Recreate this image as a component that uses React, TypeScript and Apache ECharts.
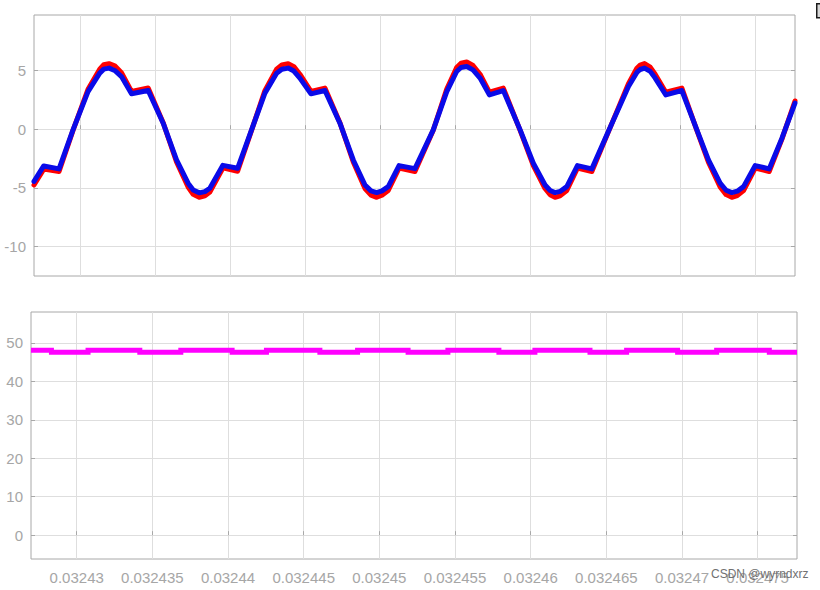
import React, { useEffect, useRef } from 'react';
import * as echarts from 'echarts';

// Time axis (s) for the two voltage traces of the upper plot
const timeTop = [
  0.03242695, 0.03242760, 0.03242862, 0.03242955, 0.03243055, 0.03243133, 0.03243160, 0.03243195,
  0.03243233, 0.03243278, 0.03243345, 0.03243456, 0.03243556, 0.03243645, 0.03243722, 0.03243756,
  0.03243796, 0.03243834, 0.03243867, 0.03243954, 0.03244052, 0.03244145, 0.03244234, 0.03244312,
  0.03244347, 0.03244389, 0.03244427, 0.03244467, 0.03244541, 0.03244634, 0.03244734, 0.03244823,
  0.03244901, 0.03244941, 0.03244979, 0.03245014, 0.03245056, 0.03245128, 0.03245234, 0.03245356,
  0.03245446, 0.03245512, 0.03245541, 0.03245579, 0.03245621, 0.03245668, 0.03245730, 0.03245823,
  0.03245935, 0.03246023, 0.03246101, 0.03246135, 0.03246168, 0.03246201, 0.03246246, 0.03246317,
  0.03246413, 0.03246528, 0.03246657, 0.03246713, 0.03246735, 0.03246764, 0.03246802, 0.03246835,
  0.03246906, 0.03247013, 0.03247113, 0.03247190, 0.03247268, 0.03247308, 0.03247346, 0.03247382,
  0.03247424, 0.03247502, 0.03247595, 0.03247680, 0.03247767,
];
const voltBlue = [
  -4.45, -3.13, -3.38, -0.06, 3.20, 4.77, 5.11, 5.20,
  5.00, 4.48, 3.01, 3.29, 0.51, -2.62, -4.60, -5.17,
  -5.42, -5.32, -5.03, -3.08, -3.33, -0.06, 3.07, 4.77,
  5.10, 5.20, 4.95, 4.35, 3.01, 3.29, 0.51, -2.62,
  -4.75, -5.25, -5.40, -5.25, -4.89, -3.10, -3.36, -0.06,
  3.20, 4.91, 5.25, 5.34, 5.05, 4.35, 2.92, 3.29,
  -0.06, -2.90, -4.75, -5.22, -5.40, -5.30, -4.89, -3.10,
  -3.38, -0.05, 3.63, 4.83, 5.08, 5.20, 4.92, 4.35,
  2.92, 3.29, -0.06, -2.62, -4.60, -5.20, -5.40, -5.28,
  -4.89, -3.10, -3.38, -0.77, 2.22,
];
const voltRed = [
  -4.75, -3.40, -3.60, -0.10, 3.40, 5.10, 5.48, 5.58,
  5.40, 4.80, 3.22, 3.50, 0.55, -2.80, -4.92, -5.55,
  -5.80, -5.68, -5.35, -3.30, -3.58, -0.10, 3.28, 5.10,
  5.47, 5.58, 5.32, 4.68, 3.22, 3.50, 0.55, -2.80,
  -5.05, -5.62, -5.80, -5.62, -5.22, -3.32, -3.60, -0.10,
  3.42, 5.25, 5.62, 5.72, 5.42, 4.68, 3.15, 3.50,
  -0.10, -3.10, -5.05, -5.58, -5.80, -5.68, -5.22, -3.32,
  -3.60, -0.08, 3.88, 5.18, 5.45, 5.58, 5.28, 4.68,
  3.15, 3.50, -0.10, -2.80, -4.92, -5.57, -5.80, -5.65,
  -5.22, -3.32, -3.60, -0.85, 2.40,
];

// Lower plot: step-wise DC level (start time of each level, level value)
const stepTimes = [
  0.03242698, 0.03242833, 0.03243075, 0.03243417, 0.03243688, 0.03244027, 0.03244254, 0.03244607,
  0.03244856, 0.03245190, 0.03245453, 0.03245790, 0.03246028, 0.03246392, 0.03246634, 0.03246971,
  0.03247229, 0.03247577, 0.03247760,
];
const stepLevels = [
  48.1, 47.6, 48.1, 47.6, 48.1, 47.6, 48.1, 47.6,
  48.1, 47.6, 48.1, 47.6, 48.1, 47.6, 48.1, 47.6,
  48.1, 47.6, 47.6,
];

const xTickValues = [0.03243, 0.032435, 0.03244, 0.032445, 0.03245, 0.032455, 0.03246, 0.032465, 0.03247, 0.032475];
const yTopTicks = [-10, -5, 0, 5];
const yBottomTicks = [0, 10, 20, 30, 40, 50];

const TOP_X_MIN = 0.03242695;
const TOP_X_MAX = 0.03247767;
const BOT_X_MIN = 0.03242698;
const BOT_X_MAX = 0.0324776;
const TOP_Y_MIN = -12.5;
const TOP_Y_MAX = 9.72;
const BOT_Y_MIN = -6.2;
const BOT_Y_MAX = 58.05;

const FONT = 'Liberation Sans, Arial, Helvetica, sans-serif';
const LABEL_COLOR = '#a6a6a6';
const GRID_LINE = '#dedede';
const TICK_COLOR = '#a8a8a8';

function xAxisFor(gridIndex: number, min: number, max: number, showLabels: boolean) {
  return {
    type: 'value',
    gridIndex,
    min,
    max,
    axisLine: { show: false },
    axisTick: { show: true, inside: true, length: 4, customValues: xTickValues, lineStyle: { color: TICK_COLOR } },
    axisLabel: {
      show: showLabels,
      customValues: xTickValues,
      color: LABEL_COLOR,
      fontSize: 15,
      fontFamily: FONT,
      margin: 11,
      formatter: (v: number) => String(parseFloat(Number(v).toPrecision(6))),
    },
    splitLine: { show: true, lineStyle: { color: GRID_LINE, width: 1 } },
  };
}

function yAxisFor(gridIndex: number, min: number, max: number, ticks: number[], position: string) {
  const left = position === 'left';
  return {
    type: 'value',
    gridIndex,
    min,
    max,
    position,
    axisLine: { show: false },
    axisTick: { show: true, inside: true, length: 4, customValues: ticks, lineStyle: { color: TICK_COLOR } },
    axisLabel: {
      show: left,
      customValues: ticks,
      color: LABEL_COLOR,
      fontSize: 15,
      fontFamily: FONT,
      margin: 8,
    },
    splitLine: { show: left, lineStyle: { color: GRID_LINE, width: 1 } },
  };
}

export default function App() {
  const ref = useRef<HTMLDivElement>(null);

  useEffect(() => {
    if (!ref.current) return;
    const chart = echarts.init(ref.current, undefined, { renderer: 'svg' });
    const blueData = timeTop.map((t, i) => [t, voltBlue[i]]);
    const redData = timeTop.map((t, i) => [t, voltRed[i]]);
    const stepData = stepTimes.map((t, i) => [t, stepLevels[i]]);

    chart.setOption({
      animation: false,
      backgroundColor: '#ffffff',
      textStyle: { fontFamily: FONT },
      grid: [
        { left: 34, top: 15, width: 761, height: 261, show: true, borderColor: '#a8a8a8', borderWidth: 1, backgroundColor: '#ffffff' },
        { left: 31, top: 312, width: 766, height: 247, show: true, borderColor: '#a8a8a8', borderWidth: 1, backgroundColor: '#ffffff' },
      ],
      xAxis: [
        xAxisFor(0, TOP_X_MIN, TOP_X_MAX, false),
        xAxisFor(1, BOT_X_MIN, BOT_X_MAX, true),
      ],
      yAxis: [
        yAxisFor(0, TOP_Y_MIN, TOP_Y_MAX, yTopTicks, 'left'),
        yAxisFor(0, TOP_Y_MIN, TOP_Y_MAX, yTopTicks, 'right'),
        yAxisFor(1, BOT_Y_MIN, BOT_Y_MAX, yBottomTicks, 'left'),
        yAxisFor(1, BOT_Y_MIN, BOT_Y_MAX, yBottomTicks, 'right'),
      ],
      series: [
        {
          type: 'line',
          name: 'red',
          xAxisIndex: 0,
          yAxisIndex: 0,
          data: redData,
          showSymbol: false,
          lineStyle: { color: '#ff0000', width: 5, cap: 'round', join: 'round' },
          z: 2,
        },
        {
          type: 'line',
          name: 'blue',
          xAxisIndex: 0,
          yAxisIndex: 0,
          data: blueData,
          showSymbol: false,
          lineStyle: { color: '#0a0ae8', width: 5, cap: 'round', join: 'round' },
          z: 3,
        },
        {
          type: 'line',
          name: 'dc',
          xAxisIndex: 1,
          yAxisIndex: 2,
          data: stepData,
          step: 'end',
          showSymbol: false,
          lineStyle: { color: '#ff00ff', width: 5, join: 'miter' },
          z: 3,
        },
      ],
      graphic: [
        {
          type: 'rect',
          left: 816,
          top: 3,
          shape: { width: 10, height: 14 },
          style: { fill: '#d8d8d8', stroke: '#1a1a1a', lineWidth: 1.5 },
          z: 100,
        },
        {
          type: 'text',
          left: 711,
          top: 568,
          style: { text: 'CSDN @wyrndxrz', fill: '#707070', font: '12px ' + FONT },
          z: 100,
        },
      ],
    });
    return () => chart.dispose();
  }, []);

  return (
    <div
      ref={ref}
      style={{ position: 'fixed', left: 0, top: 0, width: 820, height: 590, background: '#ffffff' }}
    />
  );
}
